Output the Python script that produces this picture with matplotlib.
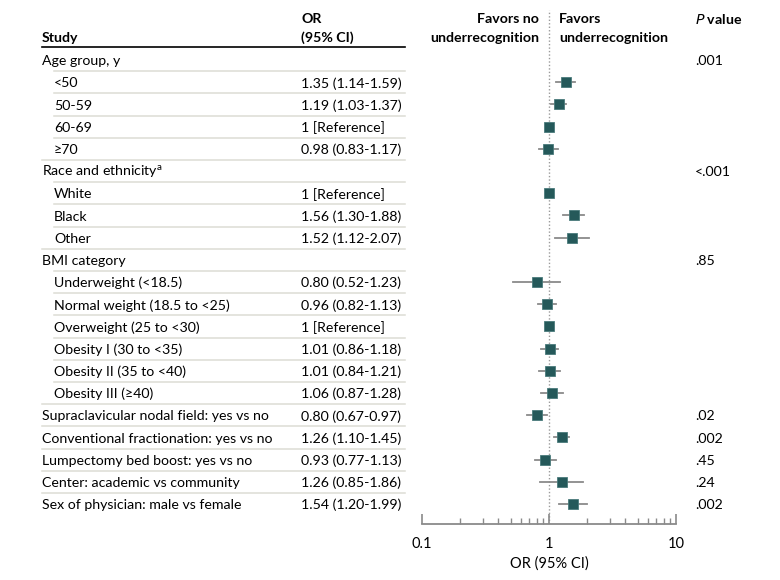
import matplotlib
matplotlib.use("Agg")
import matplotlib.pyplot as plt
import matplotlib.transforms as mtransforms
from matplotlib.ticker import FixedLocator, LogLocator, NullFormatter

plt.rcParams['font.family'] = ['Lato', 'DejaVu Sans']

# table rows
labels = ["Age group, y", "<50", "50-59", "60-69", "\u226570",
          "Race and ethnicity$^{\\mathregular{a}}$", "White", "Black", "Other",
          "BMI category", "Underweight (<18.5)", "Normal weight (18.5 to <25)",
          "Overweight (25 to <30)", "Obesity I (30 to <35)", "Obesity II (35 to <40)",
          "Obesity III (\u226540)",
          "Supraclavicular nodal field: yes vs no", "Conventional fractionation: yes vs no",
          "Lumpectomy bed boost: yes vs no", "Center: academic vs community",
          "Sex of physician: male vs female"]
indent = [0, 1, 1, 1, 1, 0, 1, 1, 1, 0, 1, 1, 1, 1, 1, 1, 0, 0, 0, 0, 0]
or_text = ["", "1.35 (1.14-1.59)", "1.19 (1.03-1.37)", "1 [Reference]", "0.98 (0.83-1.17)",
           "", "1 [Reference]", "1.56 (1.30-1.88)", "1.52 (1.12-2.07)",
           "", "0.80 (0.52-1.23)", "0.96 (0.82-1.13)", "1 [Reference]", "1.01 (0.86-1.18)",
           "1.01 (0.84-1.21)", "1.06 (0.87-1.28)",
           "0.80 (0.67-0.97)", "1.26 (1.10-1.45)", "0.93 (0.77-1.13)", "1.26 (0.85-1.86)",
           "1.54 (1.20-1.99)"]
odds = [None, 1.35, 1.19, 1, 0.98, None, 1, 1.56, 1.52, None, 0.80, 0.96, 1, 1.01,
        1.01, 1.06, 0.80, 1.26, 0.93, 1.26, 1.54]
lower = [None, 1.14, 1.03, None, 0.83, None, None, 1.30, 1.12, None, 0.52, 0.82, None,
         0.86, 0.84, 0.87, 0.67, 1.10, 0.77, 0.85, 1.20]
upper = [None, 1.59, 1.37, None, 1.17, None, None, 1.88, 2.07, None, 1.23, 1.13, None,
         1.18, 1.21, 1.28, 0.97, 1.45, 1.13, 1.86, 1.99]
pvals = [".001", "", "", "", "", "<.001", "", "", "", ".85", "", "", "", "", "", "",
         ".02", ".002", ".45", ".24", ".002"]

W, H = 780, 580
fig = plt.figure(figsize=(W / 100, H / 100), dpi=100)

# forest axes, pixel positions
x0, x1 = 422, 676
ytop, ybot = 10, 524
ax = fig.add_axes([x0 / W, 1 - ybot / H, (x1 - x0) / W, (ybot - ytop) / H])
row0, step = 60, 22.2
ax.set_ylim((ybot - row0) / step, (ytop - row0) / step)
ax.set_xscale('log')
ax.set_xlim(0.1, 10)

teal = '#25595a'
for i in range(len(labels)):
    if odds[i] is None:
        continue
    if lower[i] is not None:
        ax.plot([lower[i], upper[i]], [i, i], color='#8a8a8a', lw=1.3, zorder=2)
    ax.plot(odds[i], i, marker='s', ms=7, color=teal, mec='#4a7b7b', mew=0.6, zorder=3)

ax.axvline(1, color='#9a9a9a', ls=(0, (1, 1.5)), lw=1, zorder=1)

for s in ['top', 'right', 'left']:
    ax.spines[s].set_visible(False)
ax.spines['bottom'].set_color('#8a8a8a')
ax.spines['bottom'].set_linewidth(1.3)
ax.set_yticks([])
ax.xaxis.set_major_locator(FixedLocator([0.1, 1, 10]))
ax.xaxis.set_minor_locator(LogLocator(base=10, subs=range(2, 10)))
ax.xaxis.set_minor_formatter(NullFormatter())
ax.set_xticklabels(["0.1", "1", "10"])
ax.tick_params(axis='x', which='major', direction='in', length=7, width=1.2,
               color='#8a8a8a', labelsize=10.5, pad=9)
ax.tick_params(axis='x', which='minor', direction='in', length=4, width=1,
               color='#8a8a8a')
ax.set_xlabel("OR (95% CI)", fontsize=10.5, labelpad=4)

# left and right text columns share the row scale of the forest axes
tr = mtransforms.blended_transform_factory(fig.transFigure, ax.transData)
fs = 10.2
x_study, x_ind, x_or, x_end, x_p = 42 / W, 54 / W, 301 / W, 405 / W, 695 / W

def row(ypix):
    return (ypix - row0) / step

fig.text(x_study, row(38), "Study", transform=tr, fontsize=fs, weight='bold', va='center')
fig.text(x_or, row(19), "OR", transform=tr, fontsize=fs, weight='bold', va='center')
fig.text(x_or, row(38), "(95% CI)", transform=tr, fontsize=fs, weight='bold', va='center')
fig.text(539 / W, row(19), "Favors no", transform=tr, fontsize=fs, weight='bold',
         va='center', ha='right')
fig.text(539 / W, row(38), "underrecognition", transform=tr, fontsize=fs, weight='bold',
         va='center', ha='right')
fig.text(559 / W, row(19), "Favors", transform=tr, fontsize=fs, weight='bold', va='center')
fig.text(559 / W, row(38), "underrecognition", transform=tr, fontsize=fs, weight='bold',
         va='center')
fig.text(x_p, row(19), "$\\mathbf{\\mathit{P}}$ value", transform=tr, fontsize=fs,
         weight='bold', va='center')

ax.plot([x_study, x_end], [row(47), row(47)], transform=tr, color='black', lw=1.2,
        clip_on=False)

for i, lab in enumerate(labels):
    xl = x_ind if indent[i] else x_study
    fig.text(xl, i + 0.05, lab, transform=tr, fontsize=fs, va='center')
    fig.text(x_or, i + 0.05, or_text[i], transform=tr, fontsize=fs, va='center')
    fig.text(x_p, i + 0.05, pvals[i], transform=tr, fontsize=fs, va='center')
    if i > 0:
        ax.plot([xl, x_end], [i - 0.5, i - 0.5], transform=tr, color='#dcdcd4', lw=1.1,
                clip_on=False)

fig.savefig("out.png", dpi=100)
